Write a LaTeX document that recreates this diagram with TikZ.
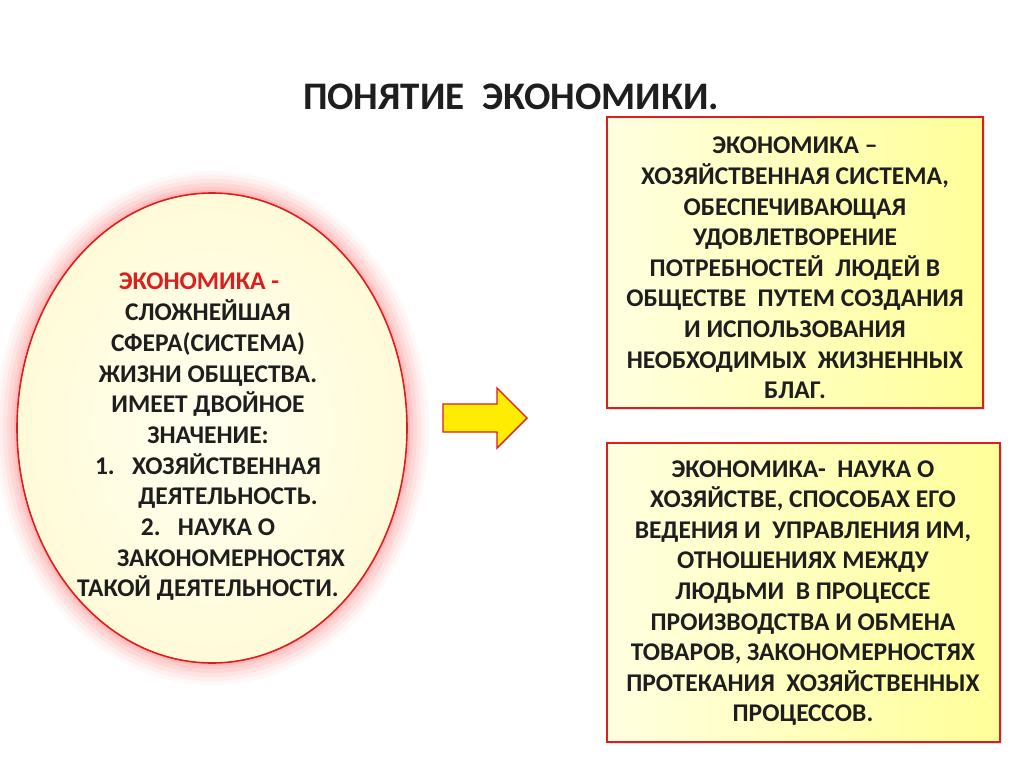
\documentclass[tikz,border=0pt]{standalone}
\usepackage{fontspec}
\setmainfont{Carlito}
\usetikzlibrary{shadows}
\definecolor{boxred}{RGB}{220,30,30}
\definecolor{txt}{RGB}{30,30,30}
\tikzset{
  defbox/.style={draw=boxred, line width=1.6pt, left color=yellow!12, right color=yellow!40, drop shadow={opacity=0.25}},
  deftext/.style={font=\fontsize{25.5}{30.6}\selectfont\bfseries, text=txt, align=center},
}
\begin{document}
\begin{tikzpicture}[x=1pt,y=-1pt]
\useasboundingbox (0,0) rectangle (1024,767);
\fill[white] (0,0) rectangle (1024,767);
\node[font=\fontsize{39}{42}\selectfont\bfseries, text=txt] (title) at (511,97) {ПОНЯТИЕ\ \ ЭКОНОМИКИ.};
% glow
\foreach \r/\o in {22/0.05,18/0.07,14/0.09,10/0.12,6/0.15,3/0.2}
  \fill[red!50, opacity=\o] (212,428) ellipse ({195+\r} and {235+\r});
\path[inner color=yellow!6!white, outer color=red!10!yellow!15] (212,428) ellipse (195 and 235);
\draw[boxred, line width=1.6pt] (212,428) ellipse (195 and 235);
\node[deftext, font=\fontsize{25.5}{30.7}\selectfont\bfseries] (elltext) at (208,437) {%
\hspace*{-18pt}\textcolor{boxred}{ЭКОНОМИКА -}\\
СЛОЖНЕЙШАЯ\\
СФЕРА(СИСТЕМА)\\
ЖИЗНИ ОБЩЕСТВА.\\
ИМЕЕТ ДВОЙНОЕ\\
ЗНАЧЕНИЕ:\\
1.\ \ \ ХОЗЯЙСТВЕННАЯ\\
\hspace*{40pt}ДЕЯТЕЛЬНОСТЬ.\\
2.\ \ \ НАУКА О\\
\hspace*{46pt}ЗАКОНОМЕРНОСТЯХ\\
ТАКОЙ ДЕЯТЕЛЬНОСТИ.};
% arrow
\draw[boxred, line width=1.4pt, fill=yellow!95!orange, line join=miter]
  (443,404) -- (497,404) -- (497,388) -- (527,418) -- (497,448) -- (497,432) -- (443,432) -- cycle;
% boxes
\draw[defbox] (607,117) rectangle (983,408);
\node[deftext] (top) at (795,268) {ЭКОНОМИКА --\\
ХОЗЯЙСТВЕННАЯ СИСТЕМА,\\
ОБЕСПЕЧИВАЮЩАЯ\\
УДОВЛЕТВОРЕНИЕ\\
ПОТРЕБНОСТЕЙ\ \ ЛЮДЕЙ В\\
ОБЩЕСТВЕ\ \ ПУТЕМ СОЗДАНИЯ\\
И ИСПОЛЬЗОВАНИЯ\\
НЕОБХОДИМЫХ\ \ ЖИЗНЕННЫХ\\
БЛАГ.};
\draw[defbox] (607,443) rectangle (1000,742);
\node[deftext] (bot) at (803,593) {ЭКОНОМИКА-\ \ НАУКА О\\
ХОЗЯЙСТВЕ, СПОСОБАХ ЕГО\\
ВЕДЕНИЯ И\ \ УПРАВЛЕНИЯ ИМ,\\
ОТНОШЕНИЯХ МЕЖДУ\\
ЛЮДЬМИ\ \ В ПРОЦЕССЕ\\
ПРОИЗВОДСТВА И ОБМЕНА\\
ТОВАРОВ, ЗАКОНОМЕРНОСТЯХ\\
ПРОТЕКАНИЯ\ \ ХОЗЯЙСТВЕННЫХ\\
ПРОЦЕССОВ.};
\end{tikzpicture}
\end{document}
